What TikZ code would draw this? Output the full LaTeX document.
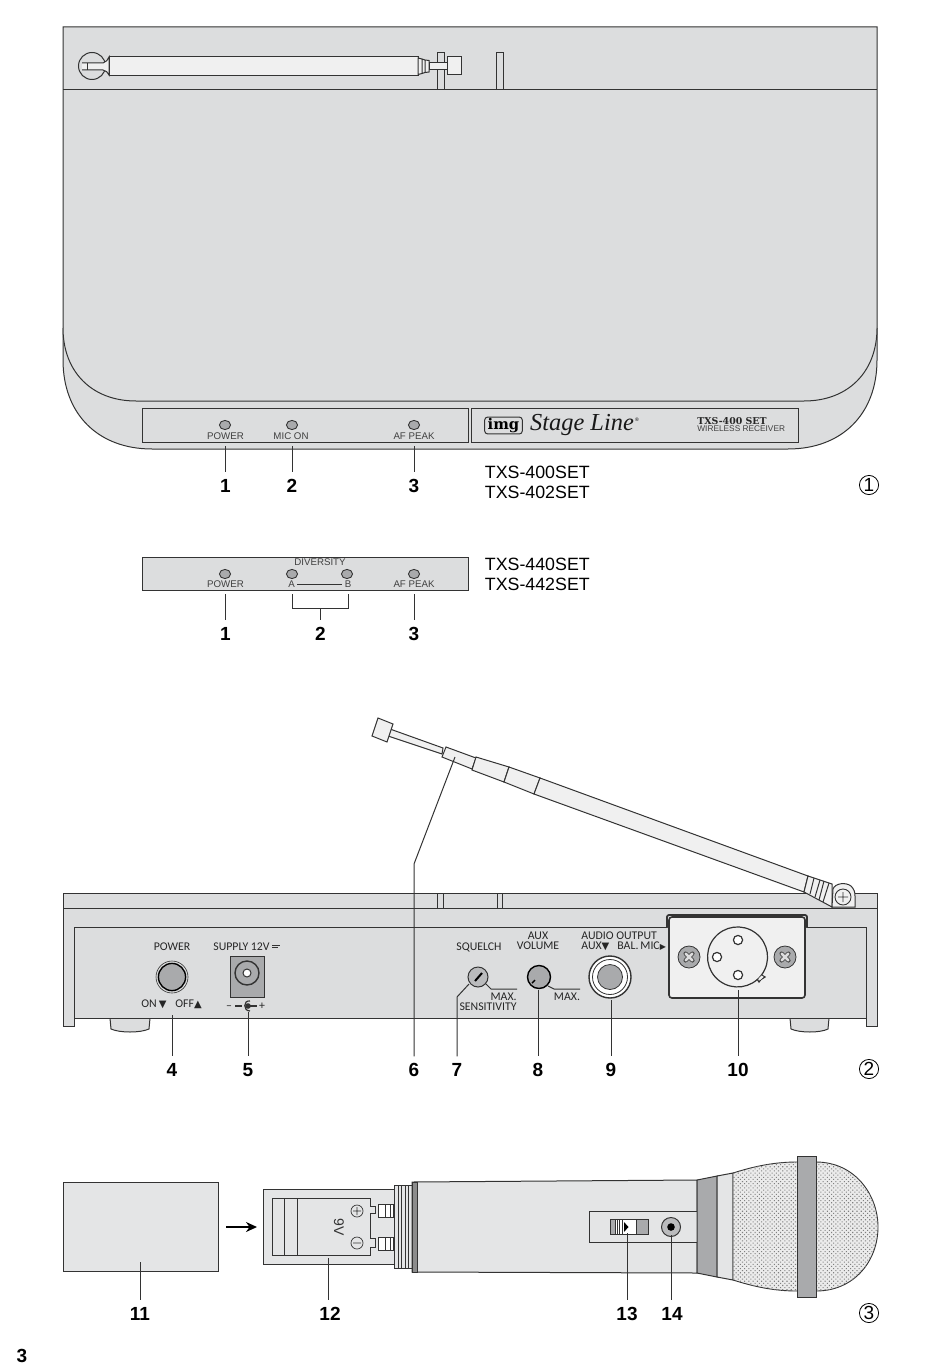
\documentclass[tikz,border=0pt]{standalone}
\usepackage{fontspec}
\setmainfont{Liberation Sans}
\newfontfamily\rearfont{Carlito}
\newfontfamily\symfont{DejaVu Sans}
\newfontfamily\brandfont{Liberation Serif}
\newfontfamily\modelfont{DejaVu Serif}
\usetikzlibrary{patterns.meta,arrows.meta}
\definecolor{bodygray}{HTML}{DCDDDE}
\definecolor{micgray}{HTML}{E4E5E6}
\definecolor{ledgray}{HTML}{A9AAAC}
\definecolor{tubegray}{HTML}{F0F0F0}
\definecolor{inkgray}{HTML}{333333}
\tikzstyle{part}=[draw=inkgray, line width=.5pt, fill=bodygray]
\tikzstyle{tube}=[part, fill=tubegray]
\tikzstyle{dark}=[part, fill=ledgray]
\tikzstyle{lead}=[draw=inkgray, line width=.5pt]
\tikzstyle{led}=[draw=inkgray, line width=.45pt, fill=ledgray, ellipse, inner sep=0pt,
  minimum width=5.6pt, minimum height=4.6pt]
\tikzstyle{num}=[font=\fontsize{9.5}{10}\selectfont\bfseries, inner sep=3.3pt, text=black]
\tikzstyle{lbl}=[font=\fontsize{4.85}{5}\selectfont, inner sep=0pt, text=black!75]
\tikzstyle{rear}=[font=\rearfont\fontsize{5.9}{5}\selectfont, inner sep=0pt, text=black!85,
  text height=3.7pt, text depth=0pt]
\tikzstyle{model}=[font=\fontsize{8.9}{9}\selectfont, inner sep=0pt, anchor=west]
\tikzstyle{fig}=[font=\fontsize{9.5}{10}\selectfont, draw=black, line width=.4pt, circle,
  inner sep=0pt, minimum size=9.6pt]
\tikzstyle{screw}=[draw=inkgray, line width=.4pt, fill=ledgray, circle, inner sep=0pt, minimum size=11pt]
\usetikzlibrary{shapes.geometric}

\begin{document}
\begin{tikzpicture}[x=.5pt, y=-.5pt, >=Stealth]
  \useasboundingbox (0,0) rectangle (950,1364);

  % top view
  \draw[part] (63,27) -- (877,27) -- (877,360) .. controls (877,414) and (842,449) .. (788,449)
    -- (152,449) .. controls (98,449) and (63,414) .. (63,360) -- cycle;
  \draw[part] (63,328) .. controls (63,372) and (92,401) .. (136,401) -- (804,401)
    .. controls (848,401) and (877,372) .. (877,328);
  \draw[part] (63,90) -- (877,90);
  \draw[part] (437,53) rectangle (444,90);
  \draw[part] (496,53) rectangle (503,90);
  \draw[part] (92,66) circle (13.5);
  \draw[tube] (82,63) -- (103,63) .. controls (106,62) and (108,60) .. (109,57) -- (109,75)
    .. controls (108,72) and (106,71) .. (103,70) -- (82,70);
  \draw[part, fill=none] (87,63) -- (87,70);
  \draw[tube] (109,57) rectangle (418,75.5);
  \draw[tube] (418,58) -- (422,59) -- (425,60) -- (429,60.5) -- (429,72) -- (425,72.5) -- (422,73.5)
    -- (418,74.5) -- cycle (422,59) -- (422,73.5) (425,60) -- (425,72.5);
  \draw[tube] (447,57) rectangle (461,75);
  \draw[tube] (429,63) rectangle (447,70);

  \draw[part] (142,408) rectangle (468,442);
  \draw[part] (471,408) rectangle (798,442);
  \node[led] (l1) at (225,425) {};
  \node[led] (l2) at (292,425) {};
  \node[led] (l3) at (414,425) {};
  \node[lbl] (t1) at (225.5,436) {POWER};
  \node[lbl] (t2) at (291,436) {MIC ON};
  \node[lbl] (t3) at (414,436) {AF PEAK};

  \node[draw=inkgray, rounded corners=1.5pt, line width=.5pt, inner xsep=1.5pt, inner ysep=.6pt,
    font=\modelfont\bfseries\fontsize{7.4}{7}\selectfont] (logo) at (503.5,425.5) {img};
  \node[inner sep=0pt, font=\brandfont\itshape\fontsize{12.2}{13}\selectfont, text=black!90] (brand) at (582,425) {Stage Line};
  \node[inner sep=0pt, font=\fontsize{2.5}{3}\selectfont] (reg) at (637,420) {®};
  \node[inner sep=0pt, anchor=west, font=\modelfont\bfseries\fontsize{4.7}{5}\selectfont, text=black!85] (mname) at (697,421) {TXS-400 SET};
  \node[inner sep=0pt, anchor=west, font=\fontsize{4.15}{5}\selectfont, text=black!75] (mtype) at (697,428.5) {WIRELESS RECEIVER};

  \coordinate (p1) at (225.5,446);
  \coordinate (p2) at (292,446);
  \coordinate (p3) at (414,446);
  \node[num] (n1) at (225.5,486) {1};
  \node[num] (n2) at (292,486) {2};
  \node[num] (n3) at (414,486) {3};
  \draw[lead] (p1) -- (n1);
  \draw[lead] (p2) -- (n2);
  \draw[lead] (p3) -- (n3);

  \node[model] (m1) at (484.5,472) {TXS-400SET};
  \node[model] (m2) at (484.5,492) {TXS-402SET};
  \node[fig] (f1) at (869,485) {1};

  % diversity panel
  \draw[part] (142,557) rectangle (468,590);
  \node[led] (d1) at (225,574) {};
  \node[led] (d2) at (292,574) {};
  \node[led] (d3) at (347,574) {};
  \node[led] (d4) at (414,574) {};
  \node[lbl] (u0) at (320,562) {DIVERSITY};
  \node[lbl] (u1) at (225.5,584.5) {POWER};
  \node[lbl] (ua) at (291.5,584.5) {A};
  \node[lbl] (ub) at (348,584.5) {B};
  \node[lbl] (u3) at (414,584.5) {AF PEAK};
  \draw[lead, line width=.35pt, shorten <=1pt, shorten >=1pt] (ua) -- (ub);

  \coordinate (q1) at (225.5,594);
  \coordinate (q3) at (414,594);
  \coordinate (qa) at (292,594);
  \coordinate (qb) at (348,594);
  \coordinate (qm) at (320.5,608);
  \node[num] (k1) at (225.5,634) {1};
  \node[num] (k2) at (320.5,634) {2};
  \node[num] (k3) at (414,634) {3};
  \draw[lead] (q1) -- (k1);
  \draw[lead] (q3) -- (k3);
  \draw[lead] (qa) -- (qa |- qm) -- (qb |- qm) -- (qb);
  \draw[lead] (qm) -- (k2);

  \node[model] (m3) at (484.5,564) {TXS-440SET};
  \node[model] (m4) at (484.5,584) {TXS-442SET};

  % rear view
  \draw[part] (63,893) rectangle (877,908);
  \draw[part] (437,893) rectangle (443,908);
  \draw[part] (497,893) rectangle (502,908);
  \draw[part] (110,1018) -- (111,1029) .. controls (120,1033) and (140,1033) .. (149,1029) -- (150,1018);
  \draw[part] (790,1018) -- (791,1029) .. controls (800,1033) and (820,1033) .. (828,1029) -- (829,1018);
  \draw[part] (63,908) -- (877,908) -- (877,1026) -- (866,1026) -- (866,1018) -- (74,1018) -- (74,1026) -- (63,1026) -- cycle;
  \draw[part] (74,1018) -- (74,927) -- (866,927) -- (866,1018);

  % antenna
  \draw[tube] (390,729) -- (443,748) -- (442,754) -- (388,736) -- cycle;
  \draw[tube] (378,718) -- (393,724) -- (387,742) -- (372,736) -- cycle;
  \draw[tube] (446,747) -- (476,758) -- (472,769) -- (442,757) -- cycle;
  \draw[tube] (476,757) -- (509,767) -- (504,782) -- (472,770) -- cycle;
  \draw[tube] (509,767) -- (540,778) -- (534,794) -- (504,782) -- cycle;
  \draw[tube] (540,778) -- (808,876) -- (804,892) -- (534,794) -- cycle;
  \draw[tube] (808,876) -- (832,884) -- (832,907) -- (804,892) -- cycle;
  \draw[part, fill=none] (814,878) -- (810,894) (820,880) -- (815,897) (824,881) -- (819,900) (829,883) -- (823,902);
  \draw[tube] (832,907) -- (833,889) .. controls (835,883) and (846,882) .. (851,886)
    .. controls (854,889) and (855,892) .. (855,896) -- (855,907) -- cycle;
  \draw[part, fill=none, line width=.45pt] (843,897) circle (8) (838,897) -- (848,897) (843,892) -- (843,902);

  % rear panel parts
  \node[rear] (r1) at (172,947) {POWER};
  \node[draw=black, line width=.7pt, circle, fill=ledgray, inner sep=0pt, minimum size=13.6pt] (btn) at (172,977) {};
  \draw[inkgray, line width=.3pt] (btn) circle (16);
  \node[rear, anchor=west] (r2) at (141,1004) {ON\,{\symfont\fontsize{5}{5}\selectfont▼}};
  \node[rear, anchor=west] (r3) at (175,1004) {OFF{\symfont\fontsize{5}{5}\selectfont▲}};
  \node[rear, anchor=west] (r4) at (213,947) {SUPPLY 12V};
  \draw[lead, line width=.3pt] (272,945.5) -- (280,945.5);
  \draw[lead, line width=.3pt, densely dashed] (272,947.5) -- (280,947.5);
  \draw[dark] (230,956) rectangle (264,997);
  \draw[part, fill=ledgray, line width=.7pt] (247,973) circle (12);
  \draw[part, fill=white, line width=.5pt] (247,973) circle (4);
  \node[rear] (r5) at (229,1006) {–};
  \node[rear] (r6) at (262,1006) {+};
  \draw[lead, line width=.6pt] (235,1006) -- (242,1006) (247,1006) -- (257,1006);
  \draw[lead, line width=.6pt] (250,1001) .. controls (243,1000) and (243,1011) .. (250,1011);
  \fill[inkgray] (248,1006) circle (2.8);

  \node[rear] (r7) at (479,947) {SQUELCH};
  \node[draw=inkgray, line width=.5pt, fill=ledgray!80, circle, inner sep=0pt, minimum size=10pt] (sq) at (478,977) {};
  \draw[line width=1pt, black] (475,981) -- (482,973);
  \draw[lead] (485,983) -- (491,989) -- (517,989);
  \node[rear, anchor=east] (r8) at (517,996.5) {MAX.};
  \node[rear, anchor=east] (r9) at (517,1006.5) {SENSITIVITY};

  \node[rear] (r10) at (538,936) {AUX};
  \node[rear] (r11) at (538,946) {VOLUME};
  \node[draw=black, line width=.7pt, fill=ledgray, circle, inner sep=0pt, minimum size=11.5pt] (vol) at (539,977) {};
  \draw[black, line width=.7pt] (532,983) -- (535,980);
  \draw[lead] (548,986) -- (554,989) -- (580,989);
  \node[rear] (r12) at (567,996.5) {MAX.};

  \node[rear, anchor=west] (r13) at (581,936) {AUDIO OUTPUT};
  \node[rear, anchor=west] (r14) at (581,946) {AUX{\symfont\fontsize{5}{5}\selectfont▼}};
  \node[rear, anchor=west] (r15) at (617,946) {BAL.\,MIC{\symfont\fontsize{4}{5}\selectfont▶}};
  \draw[part, fill=white, line width=.7pt] (610,977) circle (21);
  \draw[part, fill=white, line width=.4pt] (610,977) circle (17.5);
  \draw[dark, line width=.4pt] (610,977) circle (12.5);

  % xlr plate
  \draw[part, line width=.9pt, rounded corners=1pt] (667,927) -- (667,915) -- (807,915) -- (807,927);
  \draw[tube, line width=.8pt, rounded corners=1.5pt] (669,917) rectangle (805,998);
  \draw[part, fill=tubegray, line width=.6pt] (761.5,975) arc[start angle=37, end angle=-323, radius=30] ;
  \draw[part, fill=none, line width=.6pt] (757,979) -- (759,982) -- (761,979.5) -- (765,977) -- (761.5,975);
  \fill[tubegray] (758.5,978.5) -- (761.5,975.5) -- (763.5,976.8) -- (760.5,979.8) -- cycle;
  \draw[part, fill=white, line width=.6pt] (738,940) circle (4.6);
  \draw[part, fill=white, line width=.6pt] (717,957) circle (4.6);
  \draw[part, fill=white, line width=.6pt] (738,975) circle (4.6);
  \node[screw] (s1) at (689,957) {};
  \node[screw] (s2) at (785,957) {};
  \draw[inkgray, line width=2pt, line cap=round, shift={(s1)}] (-3.5,-3.5) -- (3.5,3.5) (-3.5,3.5) -- (3.5,-3.5);
  \draw[ledgray!40, line width=1.3pt, line cap=round, shift={(s1)}] (-3.5,-3.5) -- (3.5,3.5) (-3.5,3.5) -- (3.5,-3.5);
  \draw[inkgray, line width=2pt, line cap=round, shift={(s2)}] (-3.5,-3.5) -- (3.5,3.5) (-3.5,3.5) -- (3.5,-3.5);
  \draw[ledgray!40, line width=1.3pt, line cap=round, shift={(s2)}] (-3.5,-3.5) -- (3.5,3.5) (-3.5,3.5) -- (3.5,-3.5);

  % rear leaders
  \coordinate (c4) at (172,1015);
  \coordinate (c5) at (248,1012);
  \coordinate (c6) at (455,757);
  \coordinate (c6b) at (414,864);
  \coordinate (c7) at (469,984);
  \coordinate (c7b) at (457,997);
  \coordinate (c8) at (538,990);
  \coordinate (c9) at (611,1000);
  \coordinate (c10) at (738,990);
  \node[num] (n4) at (172,1070) {4};
  \node[num] (n5) at (248,1070) {5};
  \node[num] (n6) at (414,1070) {6};
  \node[num] (n7) at (457,1070) {7};
  \node[num] (n8) at (538,1070) {8};
  \node[num] (n9) at (611,1070) {9};
  \node[num] (n10) at (738,1070) {10};
  \draw[lead] (c4) -- (n4);
  \draw[lead] (c5) -- (n5);
  \draw[lead] (c6) -- (c6b) -- (n6);
  \draw[lead] (c7) -- (c7b) -- (n7);
  \draw[lead] (c8) -- (n8);
  \draw[lead] (c9) -- (n9);
  \draw[lead] (c10) -- (n10);
  \node[fig] (f2) at (869,1069) {2};

  % microphone
  \draw[part, fill=micgray] (63,1182) rectangle (218,1271);
  \draw[-{Stealth[length=5.5pt,width=5pt]}, line width=1.1pt] (226,1227) -- (257,1227);
  \draw[part, fill=micgray] (263,1189) rectangle (394,1264);
  \draw[lead, line width=.35pt] (272,1198) -- (370,1198) -- (370,1206) -- (375,1206) -- (375,1213) -- (370,1213)
    -- (370,1238) -- (375,1238) -- (375,1247) -- (370,1247) -- (370,1255) -- (272,1255) -- cycle;
  \draw[lead, line width=.35pt] (284,1198) -- (284,1255) (297,1198) -- (297,1255);
  \draw[lead, line width=.35pt] (357,1211) circle (6) (353,1211) -- (361,1211) (357,1207) -- (357,1215);
  \draw[lead, line width=.35pt] (357,1243) circle (6) (353,1243) -- (361,1243);
  \node[rotate=-90, inner sep=0pt, font=\fontsize{7}{7}\selectfont, text=black!80] (v9) at (339,1227) {9V};
  \draw[part, fill=white] (378,1204) rectangle (393,1217) (385,1204) -- (385,1217) (390,1204) -- (390,1217);
  \draw[part, fill=white] (378,1237) rectangle (393,1250) (385,1237) -- (385,1250) (390,1237) -- (390,1250);
  \draw[part, fill=micgray, line width=.4pt] (394,1185) rectangle (412,1268);
  \draw[lead, line width=.25pt] (398,1185) -- (398,1268) (401,1185) -- (401,1268) (405,1185) -- (405,1268) (408,1185) -- (408,1268);
  \draw[part, fill=micgray] (412,1182) -- (697,1180) -- (697,1273) -- (412,1272) -- cycle;
  \draw[part, fill=black!45] (412,1182) rectangle (417,1272);
  \draw[part, fill=micgray] (697,1211) -- (589,1211) -- (589,1242) -- (697,1242);
  \draw[part, fill=ledgray] (610,1219) rectangle (648,1234);
  \fill[white] (615,1219.5) rectangle (636,1233.5);
  \draw[lead, line width=.3pt] (617,1219) -- (617,1234) (619.5,1219) -- (619.5,1234) (622,1219) -- (622,1234) (615,1219) -- (615,1234) (636,1219) -- (636,1234);
  \fill[black] (624,1222) -- (628.5,1227) -- (624,1232) -- cycle;
  \draw[part, fill=ledgray!80] (671,1227) circle (9.5);
  \fill[black] (671,1227) circle (3.8);
  \draw[part, fill=ledgray] (697,1180) -- (717,1176) -- (717,1277) -- (697,1273) -- cycle;
  \draw[part, fill=micgray] (717,1176) -- (733,1173) -- (733,1280) -- (717,1277) -- cycle;
  \filldraw[draw=inkgray, line width=.45pt, fill=black!8] (733,1173) .. controls (755,1166) and (775,1162) .. (797,1162) -- (816,1162)
    .. controls (855,1162) and (878,1195) .. (878,1227) .. controls (878,1260) and (855,1291) .. (816,1291)
    -- (797,1291) .. controls (775,1291) and (755,1287) .. (733,1280) -- cycle;
  \path[pattern={Dots[distance=1.5pt,radius=.38pt,angle=45]}, pattern color=black!50]
    (733,1173) .. controls (755,1166) and (775,1162) .. (797,1162) -- (816,1162)
    .. controls (855,1162) and (878,1195) .. (878,1227) .. controls (878,1260) and (855,1291) .. (816,1291)
    -- (797,1291) .. controls (775,1291) and (755,1287) .. (733,1280) -- cycle;
  \draw[part, fill=ledgray] (797,1156) rectangle (816,1297);

  \coordinate (c11) at (140,1262);
  \coordinate (c12) at (328,1258);
  \coordinate (c13) at (627,1233);
  \coordinate (c14) at (671,1235);
  \node[num] (n11) at (140,1314) {11};
  \node[num] (n12) at (330,1314) {12};
  \node[num] (n13) at (627,1314) {13};
  \node[num] (n14) at (672,1314) {14};
  \draw[lead] (c11) -- (c11 |- n11.north);
  \draw[lead] (c12) -- (c12 |- n12.north);
  \draw[lead] (c13) -- (c13 |- n13.north);
  \draw[lead] (c14) -- (c14 |- n14.north);
  \node[fig] (f3) at (869,1313) {3};

  \node[num] (page) at (22,1356) {3};
\end{tikzpicture}
\end{document}
